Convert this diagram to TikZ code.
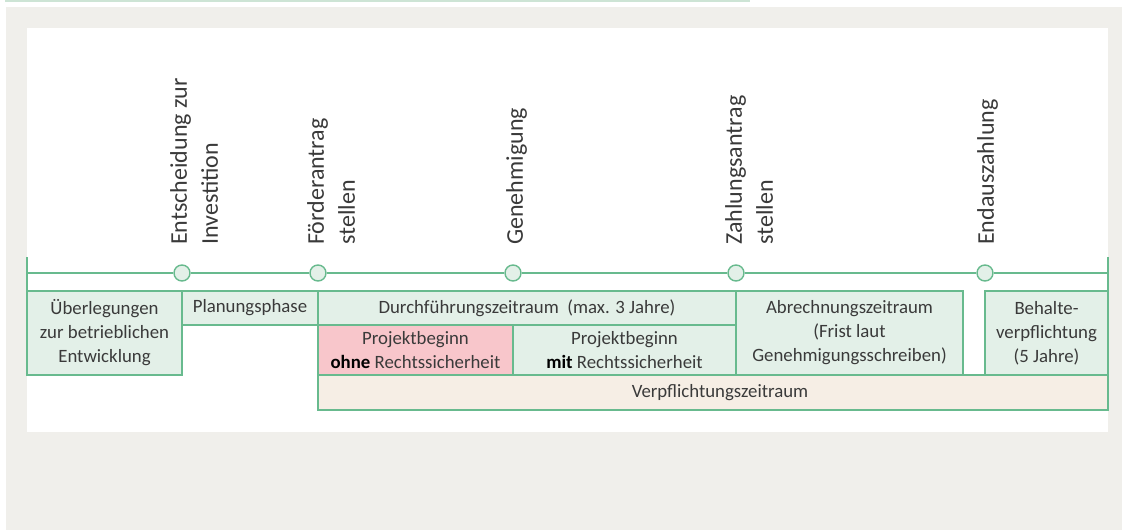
\documentclass[tikz,border=0pt]{standalone}
\usepackage{fontspec}
\setmainfont{Carlito}
\definecolor{bggray}{RGB}{240,239,235}
\definecolor{topline}{RGB}{205,228,213}
\definecolor{gstroke}{RGB}{104,186,142}
\definecolor{gfill}{RGB}{227,240,232}
\definecolor{pinkfill}{RGB}{248,198,203}
\definecolor{beige}{RGB}{246,238,229}
\definecolor{txt}{RGB}{58,58,58}
\begin{document}
\begin{tikzpicture}[x=1pt,y=-1pt,
  box/.style={draw=gstroke,line width=1.6pt,fill=gfill,anchor=north west,inner sep=0pt,outer sep=0pt,align=center,text=txt,font=\fontsize{18.8}{24}\selectfont},
  milestone/.style={circle,draw=gstroke,line width=1.4pt,fill=gfill,minimum size=16pt,inner sep=0pt},
  vlabel/.style={rotate=90,anchor=north west,align=left,inner sep=0pt,text=txt,font=\fontsize{24}{31}\selectfont},
  tline/.style={draw=gstroke,line width=1.6pt}]
\useasboundingbox (0,0) rectangle (1122,530);
% background
\fill[topline] (5,0) rectangle (750,2);
\fill[bggray] (6,7) rectangle (1122,530);
\fill[white] (27,28) rectangle (1108,432);
% boxes
\node[box,minimum width=155pt,minimum height=84pt] (ueb) at (27,291) {Überlegungen\\zur betrieblichen\\Entwicklung};
\node[box,minimum width=136pt,minimum height=34pt] (plan) at (182,291) {Planungsphase};
\node[box,minimum width=418pt,minimum height=34pt] (durch) at (318,291) {Durchführungszeitraum\ \ (max. 3 Jahre)};
\node[box,fill=pinkfill,minimum width=195pt,minimum height=50pt] (ohne) at (318,325) {Projektbeginn\\\textcolor{black}{\textbf{ohne}} Rechtssicherheit};
\node[box,minimum width=223pt,minimum height=50pt] (mit) at (513,325) {Projektbeginn\\\textcolor{black}{\textbf{mit}} Rechtssicherheit};
\node[box,minimum width=227pt,minimum height=84pt] (abr) at (736,291) {Abrechnungszeitraum\\(Frist laut\\Genehmigungsschreiben)};
\node[box,minimum width=123pt,minimum height=84pt] (beh) at (985,291) {Behalte-\\verpflichtung\\(5 Jahre)};
\node[box,fill=beige,minimum width=790pt,minimum height=35pt,text width=790pt] (verp) at (318,375) {\hspace*{14pt}Verpflichtungszeitraum};
% timeline
\coordinate (tl) at (27,273);
\coordinate (tr) at (1108,273);
\coordinate (tlt) at (27,257);
\coordinate (trt) at (1108,257);
\coordinate (tlb) at (27,291);
\coordinate (trb) at (1108,291);
\node[milestone] (m1) at (182,273) {};
\node[milestone] (m2) at (318,273) {};
\node[milestone] (m3) at (513,273) {};
\node[milestone] (m4) at (736,273) {};
\node[milestone] (m5) at (985,273) {};
\draw[tline] (tl) -- (m1) -- (m2) -- (m3) -- (m4) -- (m5) -- (tr);
\draw[tline] (tlt) -- (tlb);
\draw[tline] (trt) -- (trb);
% labels
\node[vlabel] (l1) at (170,245) {Entscheidung zur\\Investition};
\node[vlabel] (l2) at (307,245) {Förderantrag\\stellen};
\node[vlabel] (l3) at (506,245) {Genehmigung};
\node[vlabel] (l4) at (725,245) {Zahlungsantrag\\stellen};
\node[vlabel] (l5) at (977,245) {Endauszahlung};
\end{tikzpicture}
\end{document}
